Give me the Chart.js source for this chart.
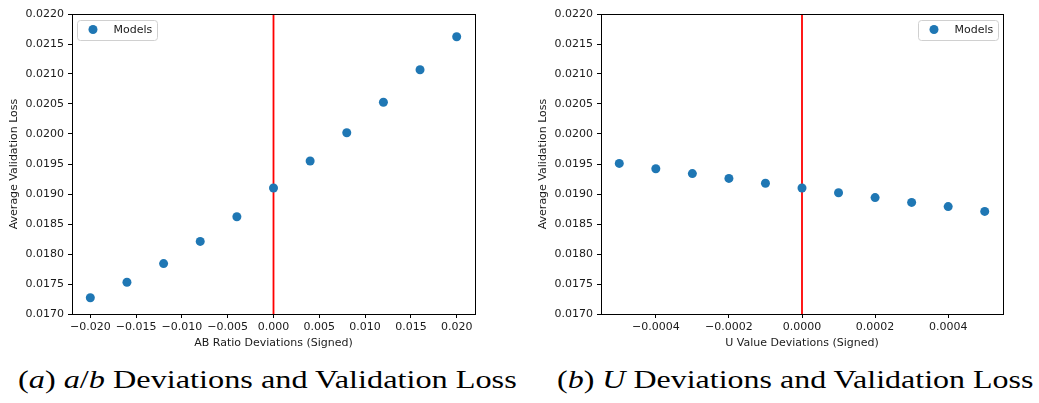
<!DOCTYPE html>
<html>
<head>
<meta charset="utf-8">
<script src="https://cdn.jsdelivr.net/npm/chart.js@4.4.0/dist/chart.umd.min.js"></script>
<style>
    body { margin: 0; background: #fff; width: 1039px; height: 403px; overflow: hidden; position: relative; }
    canvas { position: absolute; top: 0; }
    #leftChart { left: 0; }
    #rightChart { left: 529px; }
    .caption { position: absolute; top: 365px; font-family: "Liberation Serif", "DejaVu Serif", serif; font-size: 26px; color: #000; white-space: nowrap; transform-origin: 0 0; }
    .caption i { font-style: italic; }
    #capA { left: 18px; }
    #capB { left: 557px; }
</style>
</head>
<body>
<canvas id="leftChart" width="520" height="350"></canvas>
<canvas id="rightChart" width="510" height="350"></canvas>
<div class="caption" id="capA" data-w="499">(<i>a</i>) <i>a</i>/<i>b</i> Deviations and Validation Loss</div>
<div class="caption" id="capB" data-w="476">(<i>b</i>) <i>U</i> Deviations and Validation Loss</div>
<script>
// 数据
const abDeviations = [-0.020, -0.016, -0.012, -0.008, -0.004, 0.000, 0.004, 0.008, 0.012, 0.016, 0.020];
const abLoss = [0.01727, 0.01753, 0.01784, 0.01821, 0.01862, 0.01910, 0.01955, 0.02002, 0.02053, 0.02107, 0.02162];
const uDeviations = [-0.0005, -0.0004, -0.0003, -0.0002, -0.0001, 0.0000, 0.0001, 0.0002, 0.0003, 0.0004, 0.0005];
const uLoss = [0.01951, 0.01942, 0.01934, 0.01926, 0.01918, 0.01910, 0.01902, 0.01894, 0.01886, 0.01879, 0.01871];
const lossTicks = [0.0170, 0.0175, 0.0180, 0.0185, 0.0190, 0.0195, 0.0200, 0.0205, 0.0210, 0.0215, 0.0220];
const abTicks = [-0.020, -0.015, -0.010, -0.005, 0.000, 0.005, 0.010, 0.015, 0.020];
const uTicks = [-0.0004, -0.0002, 0.0000, 0.0002, 0.0004];

const blue = '#1f77b4';
const tickFont = { family: 'DejaVu Sans', size: 11 };

function fmt(v, digits) {
    const s = Math.abs(v).toFixed(digits);
    return (v < -1e-12 ? '\u2212' : '') + s;
}

// 标题宽度对齐
document.querySelectorAll('.caption').forEach(el => {
    const k = Number(el.dataset.w) / el.offsetWidth;
    el.style.transform = 'scaleX(' + k + ')';
});

// 边框 + 图例
const framePlugin = {
    id: 'frame',
    afterDraw(chart, args, opts) {
        const ctx = chart.ctx;
        const a = chart.chartArea;
        ctx.save();
        ctx.strokeStyle = '#000';
        ctx.lineWidth = 1;
        ctx.strokeRect(Math.round(a.left) + 0.5, Math.round(a.top) + 0.5,
            Math.round(a.right - a.left), Math.round(a.bottom - a.top));

        // legend box
        const w = 80, h = 20;
        const x = opts.legendSide === 'left' ? a.left + 5 : a.right - 5 - w;
        const y = a.top + 6;
        ctx.fillStyle = 'rgba(255,255,255,0.8)';
        ctx.strokeStyle = '#d0d0d0';
        ctx.beginPath();
        ctx.roundRect(x + 0.5, y + 0.5, w, h, 3);
        ctx.fill();
        ctx.stroke();
        const ds = chart.data.datasets[0];
        ctx.fillStyle = ds.backgroundColor;
        ctx.beginPath();
        ctx.arc(x + 16, y + 9.5, 4.5, 0, Math.PI * 2);
        ctx.fill();
        ctx.fillStyle = '#1a1a1a';
        ctx.font = '11px "DejaVu Sans"';
        ctx.textBaseline = 'middle';
        ctx.fillText(ds.label, x + 36.5, y + 10);
        ctx.restore();
    }
};

function makeChart(id, xs, ys, xMin, xMax, xTicks, xDigits, xTitle, legendSide) {
    const ctx = document.getElementById(id).getContext('2d');
    return new Chart(ctx, {
        type: 'scatter',
        data: {
            datasets: [
                {
                    label: 'Models',
                    data: xs.map((x, i) => ({ x: x, y: ys[i] })),
                    backgroundColor: blue,
                    borderColor: blue,
                    borderWidth: 0,
                    pointRadius: 4.5,
                    order: 0
                },
                {
                    type: 'line',
                    label: 'zero',
                    data: [{ x: 0, y: lossTicks[0] }, { x: 0, y: lossTicks[lossTicks.length - 1] }],
                    borderColor: '#ff0000',
                    borderWidth: 1.8,
                    pointRadius: 0,
                    fill: false,
                    order: 1
                }
            ]
        },
        options: {
            responsive: false,
            animation: false,
            layout: { padding: { top: 14, right: id === 'leftChart' ? 45 : 36, left: 0, bottom: 0 } },
            plugins: {
                legend: { display: false },
                tooltip: { enabled: false },
                frame: { legendSide: legendSide }
            },
            scales: {
                x: {
                    type: 'linear',
                    min: xMin,
                    max: xMax,
                    afterBuildTicks: s => { s.ticks = xTicks.map(v => ({ value: v })); },
                    afterFit: s => { s.height = 36; },
                    grid: { drawOnChartArea: false, drawTicks: true, tickLength: 4, color: '#000', tickColor: '#000' },
                    border: { display: false },
                    ticks: { color: '#1a1a1a', font: tickFont, padding: 3, maxRotation: 0, autoSkip: false,
                        callback: v => fmt(v, xDigits) },
                    title: { display: true, text: xTitle, color: '#1a1a1a', font: tickFont, padding: { top: 1, bottom: 0 } }
                },
                y: {
                    type: 'linear',
                    min: lossTicks[0],
                    max: lossTicks[lossTicks.length - 1],
                    afterBuildTicks: s => { s.ticks = lossTicks.map(v => ({ value: v })); },
                    afterFit: s => { s.width = 72; },
                    grid: { drawOnChartArea: false, drawTicks: true, tickLength: 4, color: '#000', tickColor: '#000' },
                    border: { display: false },
                    ticks: { color: '#1a1a1a', font: tickFont, padding: 4, autoSkip: false,
                        callback: v => v.toFixed(4) },
                    title: { display: true, text: 'Average Validation Loss', color: '#1a1a1a', font: tickFont, padding: { top: 8, bottom: 0 } }
                }
            }
        },
        plugins: [framePlugin]
    });
}

makeChart('leftChart', abDeviations, abLoss, -0.022, 0.022, abTicks, 3, 'AB Ratio Deviations (Signed)', 'left');
makeChart('rightChart', uDeviations, uLoss, -0.00055, 0.00055, uTicks, 4, 'U Value Deviations (Signed)', 'right');
</script>
</body>
</html>
